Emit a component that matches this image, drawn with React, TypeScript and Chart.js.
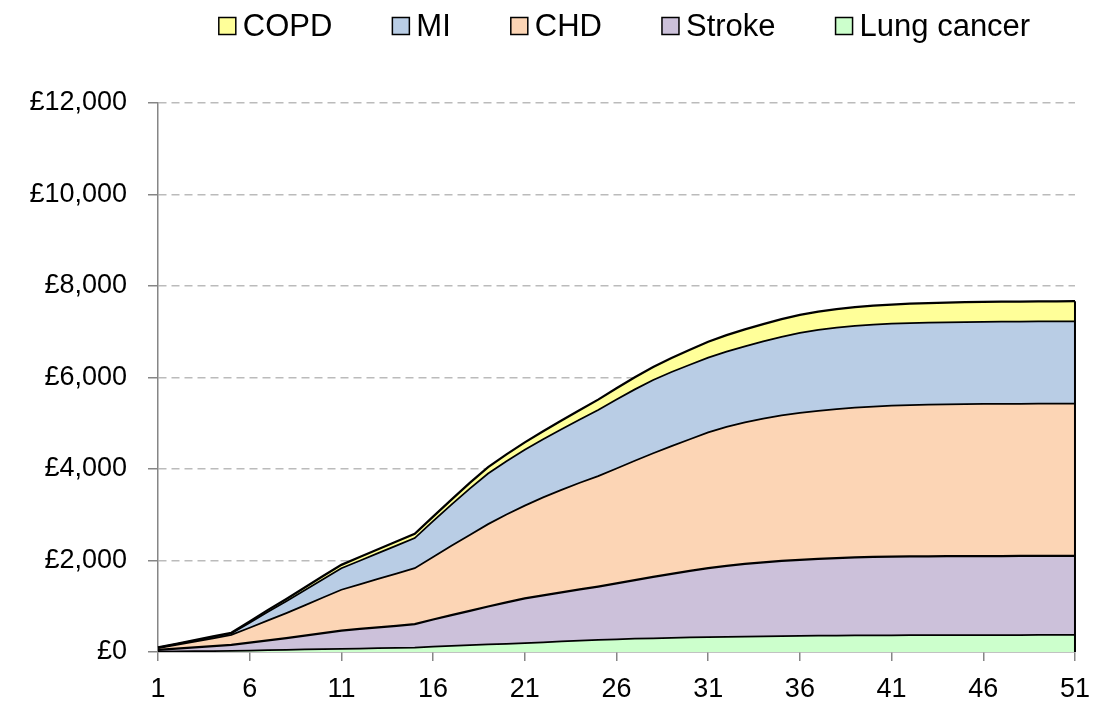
import React, { useEffect, useRef } from 'react';
import { Chart, registerables } from 'chart.js';

Chart.register(...registerables);

const years = [
  '1', '2', '3', '4', '5', '6', '7', '8', '9', '10',
  '11', '12', '13', '14', '15', '16', '17', '18', '19', '20',
  '21', '22', '23', '24', '25', '26', '27', '28', '29', '30',
  '31', '32', '33', '34', '35', '36', '37', '38', '39', '40',
  '41', '42', '43', '44', '45', '46', '47', '48', '49', '50', '51',
];

const xTickLabels = ['1', '6', '11', '16', '21', '26', '31', '36', '41', '46', '51'];
const yTicks = [0, 2000, 4000, 6000, 8000, 10000, 12000];

const lungCancer = [
  10, 14, 18, 21, 25, 32, 40, 47, 55, 62,
  70, 76, 83, 90, 96, 115, 135, 150, 165, 180,
  192, 212, 230, 248, 265, 278, 290, 300, 309, 317,
  324, 331, 337, 342, 347, 352, 356, 359, 362, 364,
  366, 367, 368, 369, 370, 370, 371, 371, 372, 372, 372,
];

const stroke = [
  35, 58, 82, 107, 130, 173, 215, 258, 305, 353,
  398, 427, 455, 483, 512, 595, 670, 750, 830, 905,
  978, 1028, 1075, 1122, 1166, 1222, 1280, 1340, 1401, 1458,
  1509, 1549, 1588, 1618, 1643, 1663, 1679, 1693, 1704, 1714,
  1721, 1723, 1724, 1725, 1725, 1726, 1727, 1729, 1729, 1730, 1731,
];

const chd = [
  40, 83, 125, 172, 219, 325, 435, 545, 660, 775,
  892, 977, 1062, 1142, 1225, 1365, 1515, 1660, 1800, 1920,
  2030, 2140, 2240, 2330, 2414, 2510, 2610, 2705, 2790, 2875,
  2967, 3040, 3095, 3140, 3180, 3210, 3235, 3258, 3274, 3287,
  3298, 3308, 3315, 3319, 3323, 3325, 3326, 3326, 3326, 3326, 3325,
];

const mi = [
  10, 17, 25, 28, 31, 110, 190, 260, 330, 400,
  470, 515, 560, 610, 657, 785, 900, 1010, 1105, 1165,
  1222, 1270, 1325, 1380, 1445, 1510, 1560, 1600, 1620, 1630,
  1635, 1645, 1662, 1690, 1720, 1750, 1770, 1780, 1788, 1790,
  1790, 1790, 1791, 1792, 1793, 1795, 1796, 1797, 1799, 1800, 1801,
];

const copd = [
  5, 8, 10, 12, 15, 30, 40, 50, 60, 70,
  75, 80, 85, 90, 94, 100, 110, 125, 140, 150,
  160, 175, 190, 208, 226, 245, 265, 285, 305, 325,
  345, 360, 370, 378, 385, 392, 398, 404, 410, 415,
  420, 425, 429, 432, 434, 436, 437, 437, 438, 438, 438,
];

const seriesNames = ['Lung cancer', 'Stroke', 'CHD', 'MI', 'COPD'];
const seriesData = [lungCancer, stroke, chd, mi, copd];
const seriesColors = ['#CCFFCC', '#CCC1DA', '#FCD5B5', '#B9CDE5', '#FFFF99'];
const seriesLineWidths = [1.75, 2.25, 1.75, 1.75, 2.25];

const FONT = '"Liberation Sans", Arial, Helvetica, sans-serif';

function formatPounds(v: number): string {
  const s = String(Math.round(v));
  let out = '';
  for (let i = 0; i < s.length; i++) {
    const fromEnd = s.length - i;
    out += s[i];
    if (fromEnd > 1 && (fromEnd - 1) % 3 === 0) out += ',';
  }
  return '\u00A3' + out;
}

const legendPlugin = {
  id: 'customLegend',
  afterDraw(chart: any) {
    const { ctx, chartArea } = chart;
    ctx.save();
    ctx.font = `31px ${FONT}`;
    ctx.textBaseline = 'middle';
    ctx.textAlign = 'left';
    const order = [4, 3, 2, 1, 0];
    const box = 17;
    const gapBoxText = 7;
    const gapItems = 60;
    const widths = order.map((i) => ctx.measureText(seriesNames[i]).width);
    const total = widths.reduce((a, w) => a + box + gapBoxText + w, 0) + gapItems * (order.length - 1);
    let x = (chartArea.left + chartArea.right) / 2 - total / 2 + 8;
    const yc = 26;
    order.forEach((si, k) => {
      ctx.fillStyle = seriesColors[si];
      ctx.fillRect(x, yc - box / 2, box, box);
      ctx.lineWidth = 1.5;
      ctx.strokeStyle = '#000';
      ctx.strokeRect(x, yc - box / 2, box, box);
      ctx.fillStyle = '#000';
      ctx.fillText(seriesNames[si], x + box + gapBoxText, yc + 1);
      x += box + gapBoxText + widths[k] + gapItems;
    });
    ctx.restore();
  },
};

const edgePlugin = {
  id: 'rightEdge',
  afterDatasetsDraw(chart: any) {
    const { ctx, scales } = chart;
    const last = years.length - 1;
    const top = seriesData.reduce((a, arr) => a + arr[last], 0);
    const x = scales.x.getPixelForValue(last);
    const y0 = scales.y.getPixelForValue(0);
    const y1 = scales.y.getPixelForValue(top);
    ctx.save();
    ctx.strokeStyle = '#000';
    ctx.lineWidth = 2;
    ctx.beginPath();
    ctx.moveTo(x, y0);
    ctx.lineTo(x, y1);
    ctx.stroke();
    ctx.restore();
  },
};

export default function App() {
  const ref = useRef<HTMLCanvasElement | null>(null);

  useEffect(() => {
    document.body.style.margin = '0';
    const canvas = ref.current;
    if (!canvas) return;
    Chart.defaults.font.family = FONT;
    const chart = new Chart(canvas, {
      type: 'line',
      data: {
        labels: years,
        datasets: seriesData.map((d, i) => ({
          label: seriesNames[i],
          data: d,
          backgroundColor: seriesColors[i],
          borderColor: '#000',
          borderWidth: seriesLineWidths[i],
          pointRadius: 0,
          pointHoverRadius: 0,
          tension: 0,
          fill: i === 0 ? 'origin' : '-1',
        })),
      },
      options: {
        responsive: false,
        animation: false,
        layout: { padding: { top: 103, left: 8, right: 21, bottom: 0 } },
        plugins: {
          legend: { display: false },
          tooltip: { enabled: false },
          filler: { drawTime: 'beforeDatasetsDraw' },
        },
        scales: {
          x: {
            type: 'category',
            offset: false,
            ticks: {
              autoSkip: false,
              maxRotation: 0,
              minRotation: 0,
              padding: 6,
              color: '#000',
              font: { size: 27, family: FONT, lineHeight: 1.65 },
              callback: (_v: any, i: number) => (xTickLabels.includes(years[i]) ? years[i] : ''),
            },
            grid: {
              drawOnChartArea: false,
              tickLength: 9,
              color: '#868686',
              tickColor: (c: any) => (xTickLabels.includes(years[c.index]) ? '#868686' : 'rgba(0,0,0,0)'),
              lineWidth: 1.5,
            },
            border: { color: '#868686', width: 1.5 },
            afterFit: (s: any) => {
              s.height = 54;
            },
          },
          y: {
            stacked: true,
            min: yTicks[0],
            max: yTicks[yTicks.length - 1],
            afterBuildTicks: (s: any) => {
              s.ticks = yTicks.map((v) => ({ value: v }));
            },
            ticks: {
              padding: 21,
              color: '#000',
              font: { size: 27, family: FONT },
              callback: (v: any) => formatPounds(Number(v)),
            },
            grid: {
              color: (c: any) => (c.tick && c.tick.value === 0 ? 'rgba(0,0,0,0)' : '#BBBBBB'),
              tickColor: '#868686',
              tickLength: 10,
              lineWidth: 1.5,
              tickBorderDash: [],
            },
            border: { color: '#868686', width: 1.5, dash: [8, 5] },
            afterFit: (s: any) => {
              s.width = 150;
            },
          },
        },
      },
      plugins: [legendPlugin, edgePlugin],
    } as any);
    return () => chart.destroy();
  }, []);

  return (
    <div style={{ width: 1096, height: 706 }}>
      <canvas ref={ref} width={1096} height={706} style={{ display: 'block' }} />
    </div>
  );
}
